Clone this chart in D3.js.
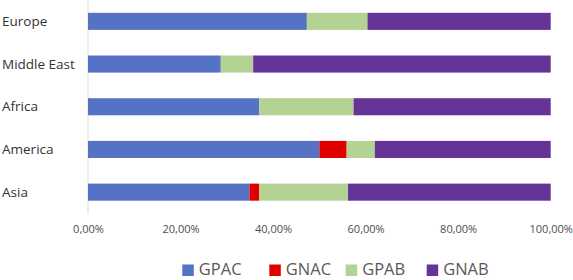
<!DOCTYPE html>
<html><head><meta charset="utf-8">
<script src="https://cdn.jsdelivr.net/npm/d3@7"></script>
<style>html,body{margin:0;padding:0;background:#fff;} svg{display:block;font-family:"Open Sans",sans-serif;}</style>
</head><body>
<svg id="chart" width="573" height="280"></svg>
<script>
const categories = ["Europe", "Middle East", "Africa", "America", "Asia"];
const seriesNames = ["GPAC", "GNAC", "GPAB", "GNAB"];
const GPAC = [47.3, 28.7, 37.0, 50.0, 34.9];
const GNAC = [0.0, 0.0, 0.0, 5.9, 2.1];
const GPAB = [13.1, 7.0, 20.4, 6.1, 19.2];
const GNAB = [39.6, 64.3, 42.6, 38.0, 43.8];
const tickValues = [0, 0.2, 0.4, 0.6, 0.8, 1.0];
const tickLabels = ["0,00%", "20,00%", "40,00%", "60,00%", "80,00%", "100,00%"];
const colors = ["#5572C4", "#E00000", "#B4D294", "#663399"];

const rows = categories.map((c, i) => ({cat: c, GPAC: GPAC[i]/100, GNAC: GNAC[i]/100, GPAB: GPAB[i]/100, GNAB: GNAB[i]/100}));
const stack = d3.stack().keys(seriesNames)(rows);

const svg = d3.select("#chart");
const x = d3.scaleLinear().domain([0, 1]).range([88, 550.7]);
const y = d3.scaleBand().domain(categories).range([0, 213.5]).paddingInner(0.6).paddingOuter(0.3);
const color = d3.scaleOrdinal().domain(seriesNames).range(colors);

// vertical axis line
svg.append("line").attr("x1", x(0)).attr("x2", x(0)).attr("y1", 0).attr("y2", 214)
  .attr("stroke", "#d9d9d9").attr("stroke-width", 1);

svg.append("g").selectAll("g").data(stack).join("g")
  .attr("fill", d => color(d.key))
  .selectAll("rect").data(d => d).join("rect")
  .attr("x", d => x(d[0]))
  .attr("y", d => y(d.data.cat))
  .attr("width", d => Math.max(0, x(d[1]) - x(d[0])))
  .attr("height", y.bandwidth());

// category labels
svg.append("g").selectAll("text").data(categories).join("text")
  .attr("x", 2).attr("y", d => y(d) + y.bandwidth()/2)
  .attr("dy", "0.35em")
  .attr("font-size", 13.5).attr("fill", "#333333")
  .text(d => d);

// x axis tick labels
const xAxis = d3.axisBottom(x).tickValues(tickValues).tickFormat((d, i) => tickLabels[i]).tickSize(0).tickPadding(0);
const gx = svg.append("g").attr("transform", "translate(0,225)").call(xAxis);
gx.select(".domain").remove();
gx.selectAll("text").attr("font-size", 11).attr("fill", "#4d4d4d").attr("font-family", "Open Sans, sans-serif").attr("dy", "0.71em");

// legend
const legendX = [182.3, 269.3, 345.7, 426.7];
const lg = svg.append("g").selectAll("g").data(seriesNames).join("g")
  .attr("transform", (d, i) => `translate(${legendX[i]},264)`);
lg.append("rect").attr("y", 0.5).attr("width", 11.5).attr("height", 11.5).attr("fill", d => color(d));
lg.append("text").attr("x", 16.5).attr("y", 11).attr("font-size", 16.5).attr("fill", "#595959").text(d => d);
</script>
</body></html>
